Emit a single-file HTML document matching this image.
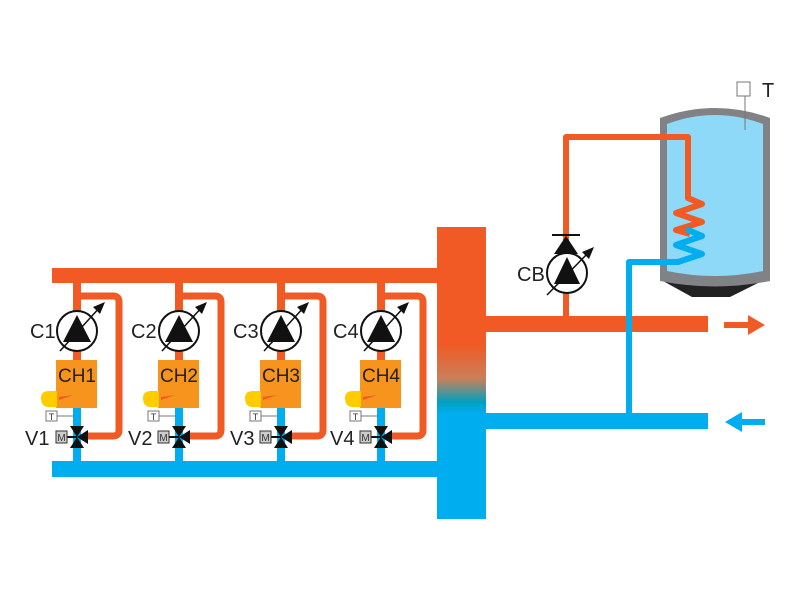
<!DOCTYPE html>
<html><head><style>body{margin:0;background:#fff}svg{display:block}text{font-family:"Liberation Sans",sans-serif}</style></head>
<body>
<svg width="800" height="600" viewBox="0 0 800 600" xmlns="http://www.w3.org/2000/svg">
<defs>
<linearGradient id="hg" x1="0" y1="0" x2="0" y2="1">
<stop offset="0" stop-color="#f15a24"/><stop offset="0.4" stop-color="#f15a24"/>
<stop offset="0.52" stop-color="#c9805a"/><stop offset="0.6" stop-color="#00a0c0"/>
<stop offset="0.64" stop-color="#00aeef"/><stop offset="1" stop-color="#00aeef"/></linearGradient>
<g id="unit">
<path d="M0,296 H36 Q42,296 42,302 V430 Q42,436 36,436 H8" fill="none" stroke="#f15a24" stroke-width="7"/>
<rect x="-4" y="283" width="8" height="77" fill="#f15a24"/>
<rect x="-4" y="407" width="8" height="55" fill="#00aeef"/>
<rect x="-21" y="360" width="41" height="48" fill="#f7941d"/>
<circle cx="0" cy="331" r="20" fill="#fff" stroke="#111" stroke-width="2"/>
<path d="M0,315 L14,342 H-14 Z" fill="#111"/>
<path d="M-17,351 L24,306" stroke="#111" stroke-width="1.5"/>
<path d="M28,302 L16,307 L23,314 Z" fill="#111"/>
<path d="M-36,398 Q-36,391 -28,391 H-20 V407 H-28 Q-36,407 -36,398 Z" fill="#ffcc00"/>
<path d="M-18,397 L-4,395 L-18,400 Z" fill="#f15a24"/>
<rect x="-31" y="411" width="11" height="10" fill="#fff" stroke="#777"/>
<text x="-25.5" y="420" font-size="9" text-anchor="middle" fill="#333">T</text>
<path d="M-20,416 H-3" stroke="#777" stroke-width="1"/>
<path d="M-7,426 H7 L0,437 Z M-7,448 H7 L0,437 Z M0,437 L11,430 V444 Z" fill="#111"/>
<path d="M-11,437 H0" stroke="#111" stroke-width="2"/>
<rect x="-21" y="431" width="11" height="12" fill="#ccc" stroke="#333"/>
<text x="-15.5" y="441" font-size="10" text-anchor="middle" fill="#333">M</text>
</g>
</defs>
<rect x="52" y="268" width="386" height="15" fill="#f15a24"/>
<rect x="52" y="461" width="386" height="16" fill="#00aeef"/>
<g transform="translate(77,0)"><use href="#unit"/></g>
<g transform="translate(179,0)"><use href="#unit"/></g>
<g transform="translate(281,0)"><use href="#unit"/></g>
<g transform="translate(381,0)"><use href="#unit"/></g>
<g font-size="20" fill="#222">
<text x="77" y="382" font-size="19" text-anchor="middle">CH1</text>
<text x="179" y="382" font-size="19" text-anchor="middle">CH2</text>
<text x="281" y="382" font-size="19" text-anchor="middle">CH3</text>
<text x="381" y="382" font-size="19" text-anchor="middle">CH4</text>
<text x="30" y="338">C1</text><text x="131" y="338">C2</text><text x="233" y="338">C3</text><text x="333" y="338">C4</text>
<text x="25" y="445">V1</text><text x="128" y="445">V2</text><text x="230" y="445">V3</text><text x="330" y="445">V4</text>
<text x="517" y="281">CB</text><text x="762" y="97">T</text>
</g>
<rect x="437" y="227" width="49" height="292" fill="url(#hg)"/>
<rect x="486" y="316" width="222" height="16" fill="#f15a24"/>
<rect x="486" y="413" width="222" height="16" fill="#00aeef"/>
<path d="M724,325 H750" stroke="#f15a24" stroke-width="6"/><path d="M765,325 L748,315 V335 Z" fill="#f15a24"/>
<path d="M765,422 H740" stroke="#00aeef" stroke-width="6"/><path d="M725,422 L742,412 V432 Z" fill="#00aeef"/>
<!-- tank -->
<path d="M690,283 H740 L760,290 V297 H690 Z" fill="#fff"/>
<path d="M663,281 L692,297 H730 L762,281 Z" fill="#222"/>
<path d="M660,118 Q715,98 770,118 V281 Q715,292 660,281 Z" fill="#808285"/>
<path d="M667,124 Q715,106 763,124 V271 Q715,281 667,271 Z" fill="#8ed8f8"/>
<rect x="737" y="82" width="13" height="14" fill="#fff" stroke="#777"/>
<path d="M745,96 V130" stroke="#777"/>
<!-- CB circuit -->
<path d="M566,316 V137 H688 V198 L702,204 L676,213 L702,222 L676,230 L690,234" fill="none" stroke="#f15a24" stroke-width="6" stroke-linejoin="round"/>
<path d="M686,229 L702,236 L676,245 L702,254 L678,262 H629 V414" fill="none" stroke="#00aeef" stroke-width="6" stroke-linejoin="round"/>
<rect x="552" y="234" width="28" height="2" fill="#111"/>
<path d="M566,236 L578,254 H554 Z" fill="#111"/>
<circle cx="567" cy="273" r="20" fill="#fff" stroke="#111" stroke-width="2"/>
<path d="M567,257 L580,284 H554 Z" fill="#111"/>
<path d="M547,295 L590,251" stroke="#111" stroke-width="1.5"/>
<path d="M594,247 L582,252 L589,259 Z" fill="#111"/>
</svg>
</body></html>
